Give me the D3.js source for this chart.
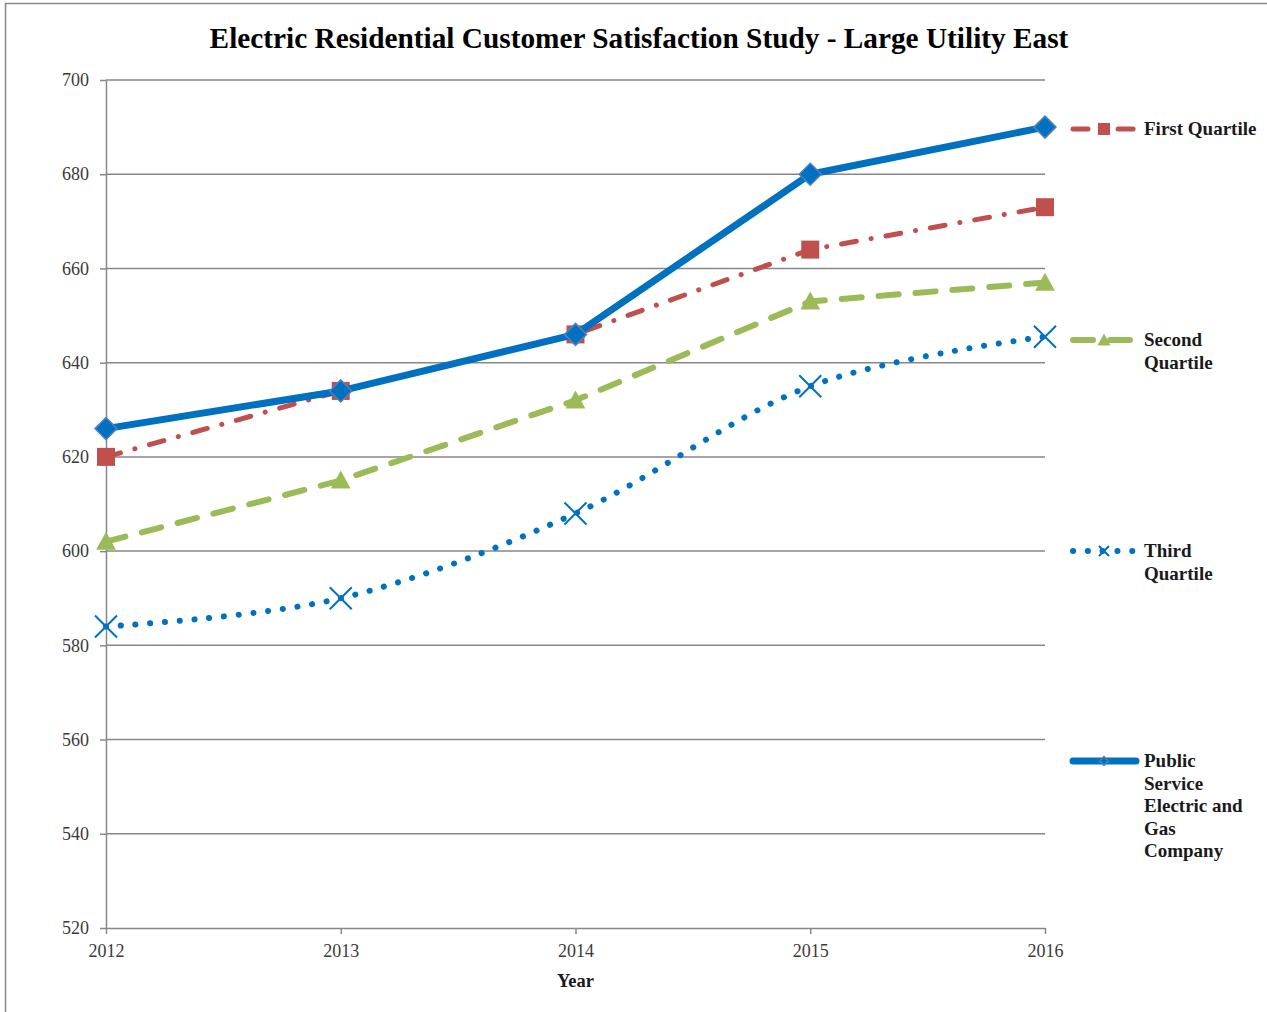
<!DOCTYPE html>
<html>
<head>
<meta charset="utf-8">
<script src="https://cdn.jsdelivr.net/npm/d3@7"></script>
<style>
  html, body { margin: 0; padding: 0; background: #fff; }
  svg { display: block; }
</style>
</head>
<body>
<svg id="chart" width="1267" height="1012"></svg>
<script>
// Survey years and index scores per series
const years = [2012, 2013, 2014, 2015, 2016];
const firstQuartile = [620, 634, 646, 664, 673];
const secondQuartile = [602, 615, 632, 653, 657];
const thirdQuartile = [584, 590, 608, 635, 645.5];
const pseg = [626, 634, 646, 680, 690];
const yTicks = [520, 540, 560, 580, 600, 620, 640, 660, 680, 700];

const title = "Electric Residential Customer Satisfaction Study - Large Utility East";
const xTitle = "Year";

const series = [
  { name: ["First Quartile"], values: firstQuartile, color: "#C0504D", width: 5,
    dash: "15,15,0.1,15", cap: "round", marker: "square", curve: d3.curveLinear, legendY: 129 },
  { name: ["Second", "Quartile"], values: secondQuartile, color: "#9BBB59", width: 6,
    dash: "20,17", cap: "round", marker: "triangle", curve: d3.curveLinear, legendY: 340 },
  { name: ["Third", "Quartile"], values: thirdQuartile, color: "#0070C0", width: 6,
    dash: "0.1,14.7", cap: "round", marker: "cross", curve: d3.curveCardinal.tension(0), legendY: 551 },
  { name: ["Public", "Service", "Electric and", "Gas", "Company"], values: pseg, color: "#0070C0", width: 7,
    dash: null, cap: "round", marker: "diamond", curve: d3.curveLinear, legendY: 761 }
];

const svg = d3.select("#chart");
const serif = "'Liberation Serif', 'DejaVu Serif', serif";
const axisGray = "#878787";

// Outer chart frame
svg.append("rect")
  .attr("x", 5.5).attr("y", 3.5).attr("width", 1400).attr("height", 1200)
  .attr("fill", "none").attr("stroke", axisGray).attr("stroke-width", 1.5);

const plot = { left: 106, right: 1045, top: 80, bottom: 928 };

const x = d3.scalePoint().domain(years).range([plot.left, plot.right]);
const y = d3.scaleLinear().domain([520, 700]).range([plot.bottom, plot.top]);

// Title
svg.append("text")
  .attr("x", 639).attr("y", 48)
  .attr("text-anchor", "middle")
  .attr("font-family", serif).attr("font-weight", "bold").attr("font-size", 29.3)
  .attr("fill", "#000")
  .text(title);

// Horizontal gridlines
svg.append("g")
  .selectAll("line")
  .data(yTicks.filter(t => t !== 520))
  .join("line")
  .attr("x1", plot.left).attr("x2", plot.right)
  .attr("y1", d => y(d)).attr("y2", d => y(d))
  .attr("stroke", axisGray).attr("stroke-width", 1.5);

// Y axis
const yAxis = svg.append("g")
  .attr("transform", `translate(${plot.left},0)`)
  .call(d3.axisLeft(y).tickValues(yTicks).tickSize(6).tickPadding(11).tickSizeOuter(0));
yAxis.select(".domain").attr("stroke", axisGray).attr("stroke-width", 1.5);
yAxis.selectAll(".tick line").attr("stroke", axisGray).attr("stroke-width", 1.5);
yAxis.selectAll(".tick text")
  .attr("font-family", serif).attr("font-size", 18).attr("fill", "#3a3a3a");

// X axis
const xAxis = svg.append("g")
  .attr("transform", `translate(0,${plot.bottom})`)
  .call(d3.axisBottom(x).tickSize(6).tickPadding(10).tickSizeOuter(0));
xAxis.select(".domain").attr("stroke", axisGray).attr("stroke-width", 1.5);
xAxis.selectAll(".tick line").attr("stroke", axisGray).attr("stroke-width", 1.5);
xAxis.selectAll(".tick text")
  .attr("font-family", serif).attr("font-size", 18).attr("fill", "#3a3a3a");

svg.append("text")
  .attr("x", x(2014)).attr("y", 987)
  .attr("text-anchor", "middle")
  .attr("font-family", serif).attr("font-weight", "bold").attr("font-size", 18.5)
  .attr("fill", "#1a1a1a")
  .text(xTitle);

// Marker shapes
function drawMarker(g, type, cx, cy, color, size) {
  const s = size;
  if (type === "square") {
    g.append("rect").attr("x", cx - s / 2).attr("y", cy - s / 2)
      .attr("width", s).attr("height", s).attr("fill", color);
  } else if (type === "triangle") {
    g.append("path")
      .attr("d", `M${cx},${cy - s * 0.55}L${cx + s * 0.55},${cy + s * 0.45}L${cx - s * 0.55},${cy + s * 0.45}Z`)
      .attr("fill", color);
  } else if (type === "cross") {
    const h = s / 2;
    g.append("path")
      .attr("d", `M${cx - h},${cy - h}L${cx + h},${cy + h}M${cx - h},${cy + h}L${cx + h},${cy - h}`)
      .attr("stroke", color).attr("stroke-width", 2).attr("fill", "none");
  } else if (type === "diamond") {
    const h = s / 2;
    g.append("path")
      .attr("d", `M${cx},${cy - h}L${cx + h},${cy}L${cx},${cy + h}L${cx - h},${cy}Z`)
      .attr("fill", color).attr("stroke", "#4F81BD").attr("stroke-width", 1.5);
  }
}

const markerSize = { square: 18, triangle: 18, cross: 22, diamond: 22 };

// Series lines and markers
series.forEach(s => {
  const g = svg.append("g");
  const pts = years.map((yr, i) => [x(yr), y(s.values[i])]);
  g.append("path")
    .datum(pts)
    .attr("d", d3.line().curve(s.curve))
    .attr("fill", "none")
    .attr("stroke", s.color)
    .attr("stroke-width", s.width)
    .attr("stroke-linecap", s.cap)
    .attr("stroke-linejoin", "round")
    .attr("stroke-dasharray", s.dash);
  pts.forEach(p => drawMarker(g, s.marker, p[0], p[1], s.color, markerSize[s.marker]));
});

// Legend
const legend = svg.append("g");
series.forEach(s => {
  const ly = s.legendY;
  legend.append("line")
    .attr("x1", 1073).attr("x2", 1136).attr("y1", ly).attr("y2", ly)
    .attr("stroke", s.color).attr("stroke-width", s.width)
    .attr("stroke-linecap", s.cap)
    .attr("stroke-dasharray", s.dash);
  const ms = s.marker === "cross" ? 10 : 12;
  if (s.marker === "diamond") {
    legend.append("path")
      .attr("d", `M1104,${ly - 4.5}L1108.5,${ly}L1104,${ly + 4.5}L1099.5,${ly}Z`)
      .attr("fill", s.color).attr("stroke", "#4F81BD").attr("stroke-width", 1.5);
  } else {
    drawMarker(legend, s.marker, 1104, ly, s.color, ms);
  }
  const t = legend.append("text")
    .attr("x", 1144).attr("y", ly + 6)
    .attr("font-family", serif).attr("font-weight", "bold").attr("font-size", 19)
    .attr("fill", "#1a1a1a");
  s.name.forEach((line, i) => {
    t.append("tspan").attr("x", 1144).attr("dy", i === 0 ? 0 : 22.5).text(line);
  });
});
</script>
</body>
</html>
